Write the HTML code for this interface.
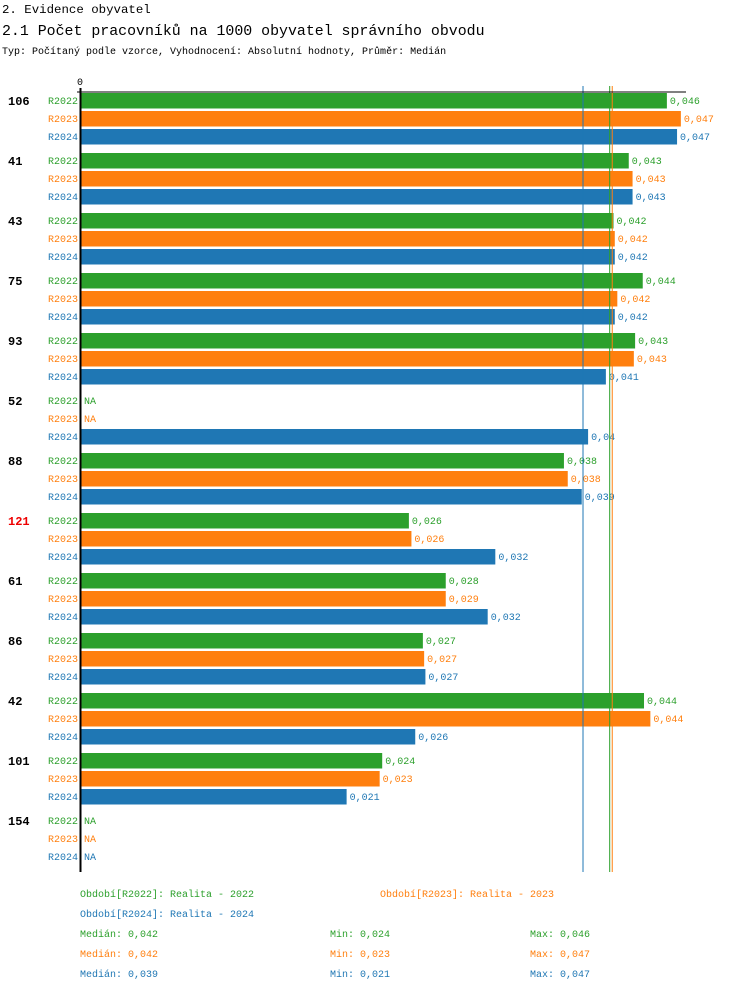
<!DOCTYPE html>
<html><head><meta charset="utf-8">
<style>
body{margin:0;background:#fff;width:750px;height:992px;overflow:hidden;font-family:"Liberation Mono","DejaVu Sans Mono",monospace;}
svg text{font-family:"Liberation Mono","DejaVu Sans Mono",monospace;}
</style></head><body>
<svg id="chart" width="750" height="992">
<text x="2" y="13" font-size="12.4">2. Evidence obyvatel</text>
<text x="2" y="35" font-size="14.9">2.1 Počet pracovníků na 1000 obyvatel správního obvodu</text>
<text x="2" y="54" font-size="10">Typ: Počítaný podle vzorce, Vyhodnocení: Absolutní hodnoty, Průměr: Medián</text>
<text x="80" y="85" font-size="10" text-anchor="middle">0</text>
<g id="plot"></g>
<g id="legend"></g>
</svg>
<script>
const categories=["106","41","43","75","93","52","88","121","61","86","42","101","154"];
const highlight=["121"];
const seriesNames=["R2022","R2023","R2024"];
const v2022=[0.0461,0.0431,0.0419,0.0442,0.0436,null,0.0380,0.0258,0.0287,0.0269,0.0443,0.0237,null];
const v2023=[0.0472,0.0434,0.0420,0.0422,0.0435,null,0.0383,0.0260,0.0287,0.0270,0.0448,0.0235,null];
const v2024=[0.0469,0.0434,0.0420,0.0420,0.0413,0.0399,0.0394,0.0326,0.0320,0.0271,0.0263,0.0209,null];
const l2022=["0,046","0,043","0,042","0,044","0,043","NA","0,038","0,026","0,028","0,027","0,044","0,024","NA"];
const l2023=["0,047","0,043","0,042","0,042","0,043","NA","0,038","0,026","0,029","0,027","0,044","0,023","NA"];
const l2024=["0,047","0,043","0,042","0,042","0,041","0,04","0,039","0,032","0,032","0,027","0,026","0,021","NA"];
const medians=[0.0416,0.0418,0.0395];
const statMedian=["0,042","0,042","0,039"];
const statMin=["0,024","0,023","0,021"];
const statMax=["0,046","0,047","0,047"];
const legendNames=["Období[R2022]: Realita - 2022","Období[R2023]: Realita - 2023","Období[R2024]: Realita - 2024"];

const colors=["#2ca02c","#ff7f0e","#1f77b4"];
const vals=[v2022,v2023,v2024], labs=[l2022,l2023,l2024];
const NS="http://www.w3.org/2000/svg";
const x0=81, scale=12709;
const xs=v=>x0+v*scale;
const ys=(g,s)=>93+g*60+s*18;
const plot=document.getElementById('plot');
function mk(tag,attrs,parent,txt){const e=document.createElementNS(NS,tag);for(const k in attrs)e.setAttribute(k,attrs[k]);if(txt!=null)e.textContent=txt;parent.appendChild(e);return e;}

categories.forEach((c,g)=>{
  const t=mk('text',{x:8,y:ys(g,0)+12,'font-size':12,'font-weight':'bold',fill:highlight.includes(c)?'#e00':'#000'},plot,c);
  
  
  for(let s=0;s<3;s++){
    const y=ys(g,s);
    const sl=mk('text',{x:78,y:y+11,'font-size':10,'text-anchor':'end',fill:colors[s]},plot,seriesNames[s]);
    
    
    const v=vals[s][g];
    let endX=x0;
    if(v!=null){
      const r=mk('rect',{x:x0,y:y,width:xs(v)-x0,height:15.5,fill:colors[s]},plot);
      
      
      endX=xs(v);
    }
    const vl=mk('text',{x:endX+3,y:y+11,'font-size':10,fill:colors[s]},plot,labs[s][g]);
    
    
  }
});
medians.forEach((m,s)=>{
  const l=mk('line',{x1:xs(m),x2:xs(m),y1:86,y2:872,stroke:colors[s],'stroke-width':1},plot);
  
  
});
const ax=mk('line',{x1:80.5,x2:80.5,y1:88,y2:872,stroke:'#000','stroke-width':2},plot);


const tl=mk('line',{x1:77,x2:686,y1:92,y2:92,stroke:'#000','stroke-width':1},plot);



const lg=document.getElementById('legend');
[[80,897],[380,897],[80,917]].forEach((p,s)=>{
  const t=mk('text',{x:p[0],y:p[1],'font-size':10,fill:colors[s]},lg,legendNames[s]);
  
  
});
for(let s=0;s<3;s++){
  const y=937+s*20;
  const a=mk('text',{x:80,y:y,'font-size':10,fill:colors[s]},lg,'Medián: '+statMedian[s]);
  
  
  const b=mk('text',{x:330,y:y,'font-size':10,fill:colors[s]},lg,'Min: '+statMin[s]);
  
  
  const c=mk('text',{x:530,y:y,'font-size':10,fill:colors[s]},lg,'Max: '+statMax[s]);
  
  
}
</script>
</body></html>
